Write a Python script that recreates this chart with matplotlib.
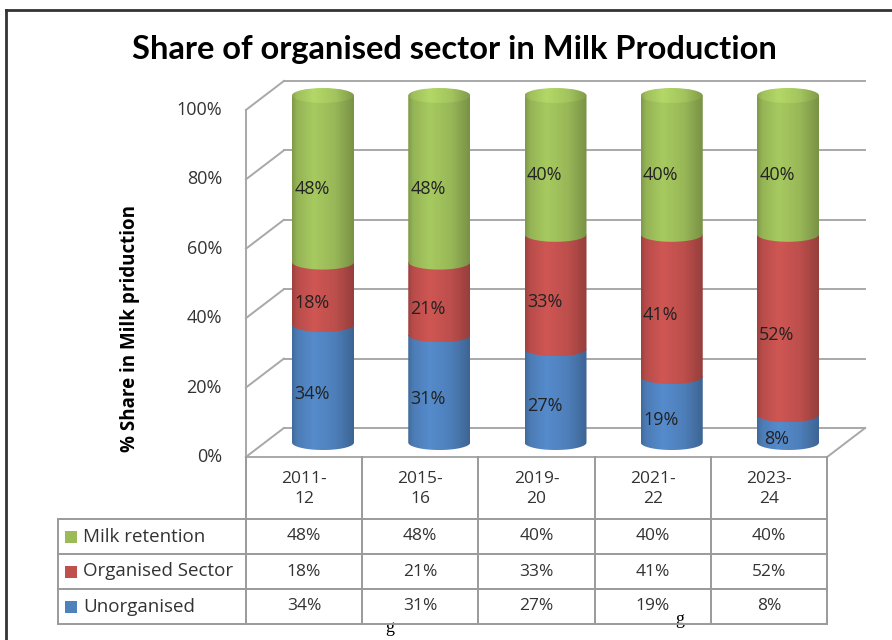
import numpy as np
import matplotlib.pyplot as plt
import matplotlib.transforms as mtransforms
from matplotlib.patches import Ellipse, Polygon, Rectangle

# data
years = ['2011-\n12', '2015-\n16', '2019-\n20', '2021-\n22', '2023-\n24']
unorganised = [34, 31, 27, 19, 8]
organised = [18, 21, 33, 41, 52]
milk_retention = [48, 48, 40, 40, 40]
series_names = ['Unorganised', 'Organised Sector', 'Milk retention']
series_colors = ['#4F81BD', '#C0504D', '#9BBB59']
y_ticks = [0, 20, 40, 60, 80, 100]

W, H = 892, 640
plt.rcParams['font.family'] = ['Open Sans', 'DejaVu Sans']
fig = plt.figure(figsize=(W / 100, H / 100), dpi=100)

# pixel layout of the fake-3D chart (mid depth plane)
CX0, STEP = 323, 116.25      # first cylinder centre, category spacing
Y0PX, Y100PX = 442.5, 95.5   # 0% and 100% in the mid plane
PX_PER_PCT = (Y0PX - Y100PX) / 100
ddx = 19 / STEP              # half depth, in data units
ddy = 14.5 / PX_PER_PCT

bg = fig.add_axes([0, 0, 1, 1])
bg.set_xlim(0, W)
bg.set_ylim(H, 0)
bg.axis('off')

ax = fig.add_axes([(CX0 - STEP / 2) / W, (H - Y0PX) / H, 5 * STEP / W, (Y0PX - Y100PX) / H])
ax.axis('off')
tbl = mtransforms.blended_transform_factory(ax.transData, bg.transData)

txt_c = '#333333'
grid_c = '#a8a8a8'
# back wall, left wall and floor
for t in y_ticks:
    ax.plot([-0.5 + ddx, 4.5 + ddx], [t + ddy, t + ddy], color=grid_c, lw=1.4, clip_on=False, zorder=1)
    ax.plot([-0.5 - ddx, -0.5 + ddx], [t - ddy, t + ddy], color=grid_c, lw=1.4, clip_on=False, zorder=1)
    ax.text(-0.5 - ddx - 24 / STEP, t - ddy, f'{t}%', ha='right', va='center',
            fontsize=13, color=txt_c)
ax.plot([-0.5 - ddx, -0.5 - ddx], [-ddy, 100 - ddy], color=grid_c, lw=1.4, clip_on=False, zorder=1)
ax.plot([-0.5 - ddx, 4.5 - ddx], [-ddy, -ddy], color=grid_c, lw=1.4, clip_on=False, zorder=1)
ax.plot([4.5 - ddx, 4.5 + ddx], [-ddy, ddy], color=grid_c, lw=1.4, clip_on=False, zorder=1)

# cylinders
a = 31 / STEP
b = 7.5 / PX_PER_PCT
u = np.linspace(0, 1, 120)
shade = np.interp(u, [0, 0.08, 0.35, 0.7, 1], [0.82, 0.96, 1.08, 0.98, 0.78])


def gradient(color, lift=1.0):
    rgb = np.array(plt.matplotlib.colors.to_rgb(color))
    return np.clip(rgb[None, None, :] * shade[None, :, None] * lift, 0, 1)


def shaded(patch, color, extent, z, lift=1.0):
    ax.add_patch(patch)
    im = ax.imshow(gradient(color, lift), extent=extent, aspect='auto',
                   interpolation='bilinear', zorder=z)
    im.set_clip_path(patch)
    im.set_clip_box(fig.bbox)


def segment(xc, lo, hi, color, z):
    th = np.linspace(np.pi, 2 * np.pi, 80)
    pts = np.column_stack([xc + a * np.cos(th), lo + b * np.sin(th)])
    pts = np.vstack([pts, [[xc + a, hi], [xc - a, hi]]])
    poly = Polygon(pts, closed=True, facecolor='none', edgecolor='none')
    shaded(poly, color, [xc - a, xc + a, lo - b, hi], z)


stack = [unorganised, organised, milk_retention]
for i in range(len(years)):
    lo = 0
    for k, vals in enumerate(stack):
        hi = lo + vals[i]
        segment(i, lo, hi, series_colors[k], 3 + k)
        ax.text(i - 11 / STEP, (lo + hi) / 2 - 2.9, f'{vals[i]}%', ha='center', va='center',
                fontsize=13, color='#222222', zorder=10)
        lo = hi
    cap = Ellipse((i, lo), 2 * a, 2 * b, facecolor='none', edgecolor='none')
    shaded(cap, series_colors[-1], [i - a, i + a, lo - b, lo + b], 7, 1.07)

ax.set_xlim(-0.5, 4.5)
ax.set_ylim(0, 100)

# data table
row_y = [457, 519, 554, 589, 624]
tab_c = '#9a9a9a'
x_leg = (58 - CX0) / STEP
edges = np.arange(-0.5, 5) - ddx
for e in edges:
    ax.plot([e, e], [row_y[0], row_y[-1]], transform=tbl, color=tab_c, lw=1.4, clip_on=False)
ax.plot([x_leg, x_leg], [row_y[1], row_y[-1]], transform=tbl, color=tab_c, lw=1.4, clip_on=False)
for ry in row_y[1:]:
    ax.plot([x_leg, edges[-1]], [ry, ry], transform=tbl, color=tab_c, lw=1.4, clip_on=False)

for i, yr in enumerate(years):
    ax.text(i - ddx, (row_y[0] + row_y[1]) / 2 + 1, yr, transform=tbl, ha='center', va='center',
            fontsize=12.5, color=txt_c, linespacing=1.4)

rows = [milk_retention, organised, unorganised]
row_names = ['Milk retention', 'Organised Sector', 'Unorganised']
row_colors = ['#9BBB59', '#C0504D', '#4F81BD']
for r, (vals, name, col) in enumerate(zip(rows, row_names, row_colors)):
    yc = (row_y[r + 1] + row_y[r + 2]) / 2
    for i, v in enumerate(vals):
        ax.text(i - ddx, yc, f'{v}%', transform=tbl, ha='center', va='center',
                fontsize=12.5, color=txt_c)
    bg.add_patch(Rectangle((65, yc - 6), 12, 12, facecolor=col, edgecolor='none'))
    bg.text(83, yc, name, ha='left', va='center', fontsize=13.5, color=txt_c)

# titles and frame
bg.text(454, 50, 'Share of organised sector in Milk Production', ha='center', va='center',
        fontsize=23.5, fontweight='bold', color='black', family=['Lato', 'DejaVu Sans'])
bg.text(130, 328, '% Share in Milk priduction', ha='center', va='center', rotation=90,
        fontsize=13.5, fontweight='bold', color='black')
bg.plot([6, W], [10, 10], color='#333333', lw=2)
bg.plot([6, 6], [10, H], color='#333333', lw=2)
bg.text(390, 628, 'g', ha='center', va='center', fontsize=13, family='Liberation Serif')
bg.text(680, 619, 'g', ha='center', va='center', fontsize=13, family='Liberation Serif')

fig.savefig('out.png', dpi=100)
